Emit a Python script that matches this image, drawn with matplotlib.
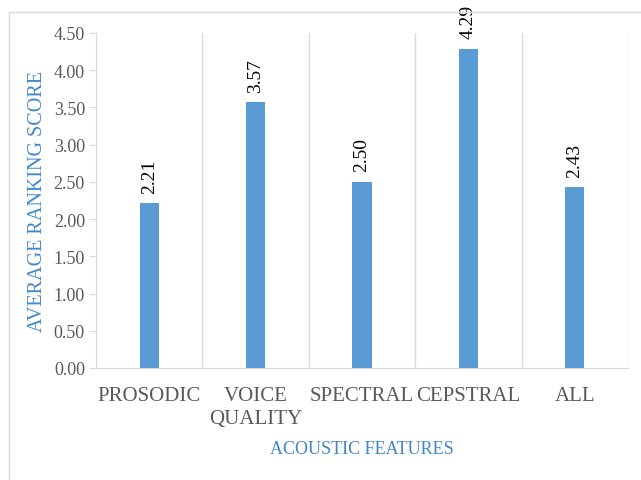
import matplotlib
matplotlib.use("Agg")
import matplotlib.pyplot as plt
from matplotlib.patches import Rectangle

categories = ["PROSODIC", "VOICE\nQUALITY", "SPECTRAL", "CEPSTRAL", "ALL"]
scores = [2.21, 3.57, 2.50, 4.29, 2.43]
yticks = [0.0, 0.5, 1.0, 1.5, 2.0, 2.5, 3.0, 3.5, 4.0, 4.5]

plt.rcParams['font.family'] = ['Liberation Serif', 'DejaVu Serif']

fig = plt.figure(figsize=(6.41, 4.81), dpi=100)
ax = fig.add_axes([96/641, 1-369/481, 532/641, 335/481])

x = list(range(len(categories)))
ax.bar(x, scores, width=0.18, color="#5b9bd5", zorder=3)
ax.set_xlim(-0.5, len(categories)-0.5)
ax.set_ylim(0, 4.5)
ax.set_yticks(yticks)
ax.set_yticklabels([f"{v:.2f}" for v in yticks], fontsize=13, color="#595959")
ax.set_xticks(x)
ax.set_xticklabels(categories, fontsize=15, color="#595959", linespacing=1.25)
ax.tick_params(axis='x', length=0, pad=13)
ax.tick_params(axis='y', length=5, color="#d9d9d9", pad=3)

for b in [i + 0.5 for i in x]:
    ax.axvline(b, color="#d9d9d9", lw=1, zorder=1)
for s in ['top', 'right']:
    ax.spines[s].set_visible(False)
ax.spines['left'].set_color("#d9d9d9")
ax.spines['bottom'].set_color("#d9d9d9")

for xi, v in zip(x, scores):
    ax.text(xi, v + 0.14, f"{v:.2f}", rotation=90, ha='center', va='bottom', fontsize=14, color="black")

ax.set_ylabel("AVERAGE RANKING SCORE", color="#4187cc", fontsize=14.5, labelpad=5)
ax.set_xlabel("ACOUSTIC FEATURES", color="#4187cc", fontsize=13, labelpad=9)

fig.patches.append(Rectangle((9/641, -0.1), 1.2, 1-13/481+0.1, transform=fig.transFigure,
                             fill=False, edgecolor="#d9d9d9", lw=1))

fig.savefig("out.png", dpi=100)
